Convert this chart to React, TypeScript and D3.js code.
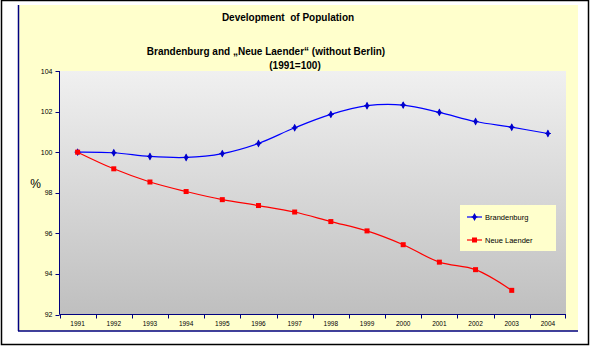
import React from "react";
import * as d3 from "d3";

const years = ["1991","1992","1993","1994","1995","1996","1997","1998","1999","2000","2001","2002","2003","2004"];
const brandenburg = [100, 99.97, 99.79, 99.74, 99.93, 100.43, 101.2, 101.86, 102.29, 102.32, 101.96, 101.51, 101.23, 100.92];
const neueLaender = [100, 99.18, 98.53, 98.06, 97.66, 97.37, 97.05, 96.58, 96.12, 95.44, 94.58, 94.21, 93.19];
const yTicks = [92, 94, 96, 98, 100, 102, 104];
const titleLines = ["Development  of Population", "Brandenburg and \u201eNeue Laender\u201c (without Berlin)", "(1991=100)"];
const seriesNames = ["Brandenburg", "Neue Laender"];

const W = 591, H = 348;
const plot = { left: 59.5, right: 566, top: 71, bottom: 314.5 };
const NAVY = "#000080";
const FONT = "'Liberation Sans', Arial, sans-serif";

export default function App() {
  const x = d3.scaleBand<string>().domain(years).range([plot.left, plot.right]);
  const y = d3.scaleLinear().domain([92, 104]).range([plot.bottom, plot.top]);
  const cx = (i: number) => (x(years[i]) as number) + x.bandwidth() / 2;
  const line = d3.line<number>().x((_, i) => cx(i)).y((d) => y(d)).curve(d3.curveCatmullRom.alpha(0.5));

  return (
    <svg width={W} height={H} style={{ position: "absolute", left: 0, top: 0 }} fontFamily={FONT}>
      <defs>
        <linearGradient id="pg" x1="0" y1="0" x2="0" y2="1">
          <stop offset="0" stopColor="#f0f0f0" />
          <stop offset="1" stopColor="#bfbfbf" />
        </linearGradient>
      </defs>
      <rect x={0} y={0} width={W} height={H} fill="#fff" />
      <rect x={1.5} y={0.5} width={587} height={344} fill="none" stroke="#000" strokeWidth={1.5} />
      <rect x={18} y={5} width={560} height={326} fill="#ffffcc" />
      <line x1={18.5} y1={5} x2={18.5} y2={331} stroke={NAVY} strokeWidth={1.5} />
      <line x1={18} y1={331} x2={578} y2={331} stroke={NAVY} strokeWidth={1.5} />

      <text x={288} y={21} textAnchor="middle" fontSize={10} fontWeight="bold" style={{ whiteSpace: "pre" }}>{titleLines[0]}</text>
      <text x={266} y={54.5} textAnchor="middle" fontSize={10} fontWeight="bold">{titleLines[1]}</text>
      <text x={295} y={69} textAnchor="middle" fontSize={10} fontWeight="bold">{titleLines[2]}</text>

      <rect x={plot.left} y={plot.top} width={plot.right - plot.left} height={plot.bottom - plot.top} fill="url(#pg)" />

      {/* Y axis */}
      <line x1={plot.left} y1={plot.top} x2={plot.left} y2={plot.bottom} stroke={NAVY} strokeWidth={1} />
      {yTicks.map((t) => (
        <g key={t}>
          <line x1={plot.left - 4} x2={plot.left} y1={Math.round(y(t)) + 0.5} y2={Math.round(y(t)) + 0.5} stroke={NAVY} />
          <text x={plot.left - 7} y={y(t) + 2.5} textAnchor="end" fontSize={7}>{t}</text>
        </g>
      ))}
      <text x={35.5} y={188} textAnchor="middle" fontSize={12}>%</text>

      {/* X axis */}
      <line x1={plot.left} y1={plot.bottom} x2={plot.right} y2={plot.bottom} stroke={NAVY} strokeWidth={1} />
      {years.map((yr, i) => (
        <g key={yr}>
          <line x1={Math.round(x(yr) as number) + 0.5} x2={Math.round(x(yr) as number) + 0.5} y1={plot.bottom} y2={plot.bottom + 4} stroke={NAVY} />
          <text x={cx(i)} y={326} textAnchor="middle" fontSize={6.5}>{yr}</text>
        </g>
      ))}
      <line x1={plot.right - 0.5} x2={plot.right - 0.5} y1={plot.bottom} y2={plot.bottom + 4} stroke={NAVY} />

      {/* Series */}
      <path d={line(brandenburg) || ""} fill="none" stroke="#0000ff" strokeWidth={1.2} />
      <path d={line(neueLaender) || ""} fill="none" stroke="#ff0000" strokeWidth={1.2} />
      {brandenburg.map((v, i) => (
        <g key={"b" + i} transform={`translate(${cx(i)},${y(v)})`}>
          <path d={d3.symbol().type(d3.symbolDiamond).size(18)() || ""} fill="#0000cc" />
          <line x1={-3} x2={3} y1={0} y2={0} stroke="#0000cc" strokeWidth={1} />
          <line x1={0} x2={0} y1={-3} y2={3} stroke="#0000cc" strokeWidth={1} />
        </g>
      ))}
      {neueLaender.map((v, i) => (
        <rect key={"n" + i} x={cx(i) - 2.5} y={y(v) - 2.5} width={5} height={5} fill="#ff0000" />
      ))}

      {/* Legend */}
      <rect x={460} y={205} width={96} height={46} fill="#ffffcc" />
      <line x1={467} x2={482} y1={217} y2={217} stroke="#0000ff" strokeWidth={1.2} />
      <g transform="translate(474.5,217)">
        <path d={d3.symbol().type(d3.symbolDiamond).size(18)() || ""} fill="#0000cc" />
        <line x1={-3} x2={3} y1={0} y2={0} stroke="#0000cc" />
        <line x1={0} x2={0} y1={-3} y2={3} stroke="#0000cc" />
      </g>
      <text x={485} y={220} fontSize={7.5}>{seriesNames[0]}</text>
      <line x1={467} x2={482} y1={240} y2={240} stroke="#ff0000" strokeWidth={1.2} />
      <rect x={472} y={237.5} width={5} height={5} fill="#ff0000" />
      <text x={485} y={243} fontSize={7.5}>{seriesNames[1]}</text>
    </svg>
  );
}
